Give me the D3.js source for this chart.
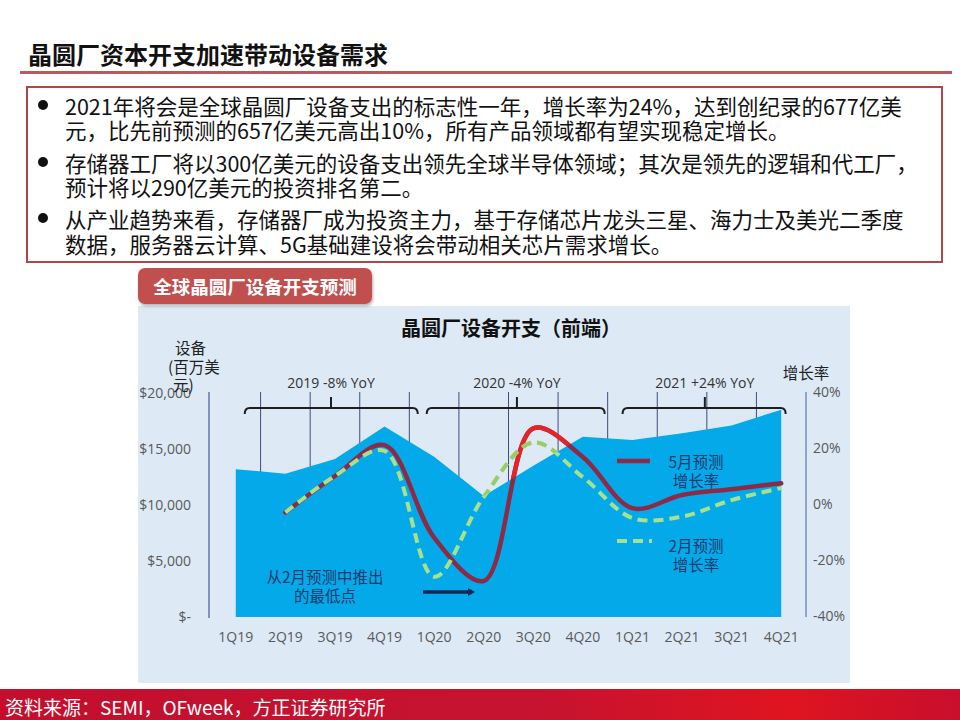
<!DOCTYPE html>
<html><head><meta charset="utf-8">
<script src="https://cdn.jsdelivr.net/npm/d3@7"></script>
<style>
html,body{margin:0;padding:0;background:#fff;}
svg{display:block;}
</style></head>
<body>
<svg id="c" width="960" height="720"></svg>
<script>
// ---------- data ----------
const quarters = ["1Q19","2Q19","3Q19","4Q19","1Q20","2Q20","3Q20","4Q20","1Q21","2Q21","3Q21","4Q21"];
const spending = [13200,12800,14100,17000,14300,10800,13500,16100,15800,16400,17100,18500]; // 设备 (百万美元)
const mayGrowth = [null,-3,10,21,-12,-27.5,27,16.8,-1.5,3.2,5.3,7.4];   // 5月预测增长率 %
const febGrowth = [null,-3,10,19,-26,2.5,22,9.6,-5,-4.5,1.4,5.7];       // 2月预测增长率 %
const leftTicks = [0,5000,10000,15000,20000];
const rightTicks = [-40,-20,0,20,40];
const yearBrackets = [
  {label:"2019 -8% YoY", from:0.18, to:3.67, mid:1.92},
  {label:"2020 -4% YoY", from:3.85, to:7.44, mid:5.67},
  {label:"2021 +24% YoY", from:7.8, to:11.09, mid:9.46}
];
const pageTitle = "晶圆厂资本开支加速带动设备需求";
const bullets = [
  ["2021年将会是全球晶圆厂设备支出的标志性一年，增长率为24%，达到创纪录的677亿美","元，比先前预测的657亿美元高出10%，所有产品领域都有望实现稳定增长。"],
  ["存储器工厂将以300亿美元的设备支出领先全球半导体领域；其次是领先的逻辑和代工厂，","预计将以290亿美元的投资排名第二。"],
  ["从产业趋势来看，存储器厂成为投资主力，基于存储芯片龙头三星、海力士及美光二季度","数据，服务器云计算、5G基础建设将会带动相关芯片需求增长。"]
];
const badgeText = "全球晶圆厂设备开支预测";
const chartTitle = "晶圆厂设备开支（前端）";
const sourceText = "资料来源：SEMI，OFweek，方正证券研究所";

// ---------- setup ----------
const svg = d3.select("#c");
const CJK = "'Noto Sans CJK SC','Noto Sans',sans-serif";
const LAT = "'Open Sans','Noto Sans',sans-serif";
const defs = svg.append("defs");

// page title
svg.append("text").attr("x",28).attr("y",53).attr("dominant-baseline","central")
  .attr("font-family",CJK).attr("font-weight",700).attr("font-size",24).attr("fill","#111").text(pageTitle);
svg.append("rect").attr("x",20).attr("y",71).attr("width",932).attr("height",3).attr("fill","#b85a5d");

// bullet box
svg.append("rect").attr("x",27).attr("y",87).attr("width",915).attr("height",175)
  .attr("fill","#fff").attr("stroke","#b04747").attr("stroke-width",2);
const lineY = [[105,129],[162,186],[218,243]];
bullets.forEach((b,i)=>{
  svg.append("circle").attr("cx",43).attr("cy",lineY[i][0]).attr("r",5).attr("fill","#111");
  b.forEach((t,j)=>{
    svg.append("text").attr("x",65).attr("y",lineY[i][j]).attr("dominant-baseline","central")
      .attr("font-family",CJK).attr("font-size",21.5).attr("fill","#111").text(t);
  });
});

// chart panel
svg.append("rect").attr("x",138).attr("y",306).attr("width",712).attr("height",377).attr("fill","#dde9f5");

// badge
const sh = defs.append("filter").attr("id","sh").attr("x","-10%").attr("y","-20%").attr("width","120%").attr("height","150%");
sh.append("feDropShadow").attr("dx",1).attr("dy",2).attr("stdDeviation",1.5).attr("flood-color","#000").attr("flood-opacity",0.3);
svg.append("rect").attr("x",138).attr("y",268).attr("width",234).attr("height",36).attr("rx",7)
  .attr("fill","#c0504d").attr("filter","url(#sh)");
svg.append("text").attr("x",255).attr("y",286).attr("text-anchor","middle").attr("dominant-baseline","central")
  .attr("font-family",CJK).attr("font-weight",700).attr("font-size",18.5).attr("fill","#fff").text(badgeText);

// chart title
svg.append("text").attr("x",511).attr("y",327).attr("text-anchor","middle").attr("dominant-baseline","central")
  .attr("font-family",CJK).attr("font-weight",700).attr("font-size",20).attr("fill","#111").text(chartTitle);

// scales
const x = d3.scaleBand().domain(quarters).range([211,806]).padding(0);
const cx = q => x(q) + x.bandwidth()/2;
const xi = i => x.range()[0] + x.bandwidth()*(i+0.5);
const yL = d3.scaleLinear().domain([0,20000]).range([617,393]);
const yR = d3.scaleLinear().domain([-40,40]).range([616,392]);

// vertical grid lines at band boundaries
svg.append("g").selectAll("line").data(quarters.slice(1)).join("line")
  .attr("x1",d=>x(d)).attr("x2",d=>x(d)).attr("y1",392).attr("y2",617)
  .attr("stroke","#3f4c7c").attr("stroke-width",1);

// area
const areaData = quarters.map((q,i)=>({q,v:spending[i]}));
const area = d3.area().x(d=>cx(d.q)).y0(yL(0)).y1(d=>yL(d.v));
svg.append("path").datum(areaData).attr("d",area).attr("fill","#03a9e8");

// clip for region above the area
const above = d3.area().x(d=>cx(d.q)).y0(300).y1(d=>yL(d.v));
defs.append("clipPath").attr("id","aboveArea").append("path").datum(areaData).attr("d",above);

// axis lines
svg.append("line").attr("x1",209).attr("x2",209).attr("y1",392).attr("y2",618).attr("stroke","#7f93b8").attr("stroke-width",2);
svg.append("line").attr("x1",806).attr("x2",806).attr("y1",392).attr("y2",617).attr("stroke","#8ea5cb").attr("stroke-width",2);

// axes
function styleAxis(g){
  g.select(".domain").remove();
  g.selectAll("text").attr("font-family",LAT).attr("font-size",14).attr("fill","#595959");
}
svg.append("g").attr("transform","translate(197,0)")
  .call(d3.axisLeft(yL).tickValues(leftTicks).tickSize(0).tickPadding(6)
    .tickFormat(d=> d===0 ? "$-" : "$"+d3.format(",")(d)))
  .call(styleAxis);
svg.append("g").attr("transform","translate(806,0)")
  .call(d3.axisRight(yR).tickValues(rightTicks).tickSize(0).tickPadding(7).tickFormat(d=>d+"%"))
  .call(styleAxis);
svg.append("g").attr("transform","translate(0,622)")
  .call(d3.axisBottom(x).tickSize(0).tickPadding(10))
  .call(styleAxis);

// axis titles
[["设备",175,347],["(百万美",168,366],["元)",173,384]].forEach(([t,xx,yy])=>{
  svg.append("text").attr("x",xx).attr("y",yy).attr("dominant-baseline","central")
    .attr("font-family",CJK).attr("font-size",15.5).attr("fill","#222").text(t);
});
svg.append("text").attr("x",806).attr("y",372).attr("text-anchor","middle").attr("dominant-baseline","central")
  .attr("font-family",CJK).attr("font-size",15.5).attr("fill","#222").text("增长率");

// year brackets
const by = 408;
yearBrackets.forEach(b=>{
  const x0 = xi(b.from), x1 = xi(b.to), xm = xi(b.mid);
  svg.append("path").attr("d",`M${x0},${by+6} Q${x0},${by} ${x0+5},${by} L${x1-5},${by} Q${x1},${by} ${x1},${by+6}`)
    .attr("fill","none").attr("stroke","#1e1e1e").attr("stroke-width",2);
  svg.append("line").attr("x1",xm).attr("x2",xm).attr("y1",by-11).attr("y2",by).attr("stroke","#1e1e1e").attr("stroke-width",2);
  svg.append("text").attr("x",xm).attr("y",382).attr("text-anchor","middle").attr("dominant-baseline","central")
    .attr("font-family",LAT).attr("font-size",14).attr("fill","#333").text(b.label);
});

// growth lines
const lineGen = d3.line().defined(d=>d.v!=null).x(d=>cx(d.q)).y(d=>yR(d.v)).curve(d3.curveCatmullRom.alpha(0.5));
const mayData = quarters.map((q,i)=>({q,v:mayGrowth[i]}));
const febData = quarters.map((q,i)=>({q,v:febGrowth[i]}));
svg.append("path").datum(mayData).attr("d",lineGen).attr("fill","none").attr("stroke","#8d2b47").attr("stroke-width",4.5).attr("stroke-linecap","round");
svg.append("path").datum(mayData).attr("d",lineGen).attr("fill","none").attr("stroke","#e3242c").attr("stroke-width",4.5).attr("stroke-linecap","round").attr("clip-path","url(#aboveArea)");
svg.append("path").datum(febData).attr("d",lineGen).attr("fill","none").attr("stroke","#a9e08c").attr("stroke-width",4).attr("stroke-dasharray","10,6");
svg.append("path").datum(febData).attr("d",lineGen).attr("fill","none").attr("stroke","#99cd68").attr("stroke-width",4).attr("stroke-dasharray","10,6").attr("clip-path","url(#aboveArea)");

// legend
const legC = "#1d3a6e";
svg.append("line").attr("x1",617).attr("x2",650).attr("y1",461).attr("y2",461).attr("stroke","#8d2b47").attr("stroke-width",4.5);
svg.append("line").attr("x1",617).attr("x2",652).attr("y1",541).attr("y2",541).attr("stroke","#a9e08c").attr("stroke-width",4).attr("stroke-dasharray","10,6");
[["5月预测",461],["增长率",480],["2月预测",545],["增长率",564]].forEach(([t,yy])=>{
  svg.append("text").attr("x",696).attr("y",yy).attr("text-anchor","middle").attr("dominant-baseline","central")
    .attr("font-family",CJK).attr("font-size",15.5).attr("fill",legC).text(t);
});

// annotation
[["从2月预测中推出",576],["的最低点",595]].forEach(([t,yy])=>{
  svg.append("text").attr("x",325).attr("y",yy).attr("text-anchor","middle").attr("dominant-baseline","central")
    .attr("font-family",CJK).attr("font-size",15.5).attr("fill",legC).text(t);
});
svg.append("line").attr("x1",423).attr("x2",470).attr("y1",592).attr("y2",592).attr("stroke","#15285a").attr("stroke-width",3.5);
svg.append("path").attr("d","M468,588 L475,592 L468,596 Z").attr("fill","#15285a");

// footer
const fg = defs.append("linearGradient").attr("id","fg");
[["0%","#c30f2d"],["55%","#c51330"],["82%","#df1420"],["100%","#c80f2c"]].forEach(([o,c])=>fg.append("stop").attr("offset",o).attr("stop-color",c));
svg.append("rect").attr("x",0).attr("y",689).attr("width",960).attr("height",31).attr("fill","url(#fg)");
svg.append("text").attr("x",5).attr("y",706).attr("dominant-baseline","central")
  .attr("font-family",CJK).attr("font-size",19).attr("fill","#fff").text(sourceText);
</script>
</body></html>
